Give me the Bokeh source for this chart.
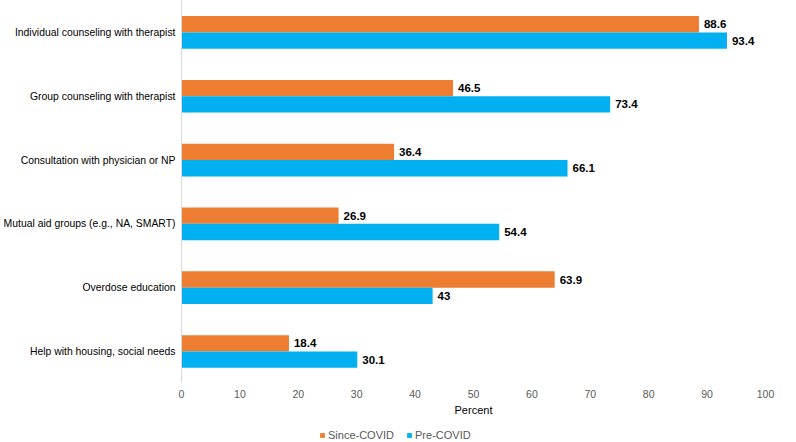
from bokeh.plotting import figure
from bokeh.layouts import column
from bokeh.models import ColumnDataSource, Range1d, Legend, LegendItem, LabelSet, FixedTicker
from bokeh.core.properties import value
from bokeh.transform import dodge
from bokeh.embed import file_html
from bokeh.resources import INLINE

categories = [
    "Individual counseling with therapist",
    "Group counseling with therapist",
    "Consultation with physician or NP",
    "Mutual aid groups (e.g., NA, SMART)",
    "Overdose education",
    "Help with housing, social needs",
]
since_covid = [88.6, 46.5, 36.4, 26.9, 63.9, 18.4]
pre_covid = [93.4, 73.4, 66.1, 54.4, 43, 30.1]
x_ticks = [0, 10, 20, 30, 40, 50, 60, 70, 80, 90, 100]
series_names = ["Since-COVID", "Pre-COVID"]

ORANGE = "#ED7D31"
BLUE = "#00B0F0"
FONT = "Liberation Sans"

pos = list(range(len(categories)))
src = ColumnDataSource(dict(
    y=pos,
    since=since_covid,
    pre=pre_covid,
    since_lbl=[f"{v:g}" for v in since_covid],
    pre_lbl=[f"{v:g}" for v in pre_covid],
))

p = figure(width=780, height=420, output_backend="svg", toolbar_location=None,
           x_range=Range1d(0, 100), y_range=Range1d(5.486, -0.5),
           min_border_left=179, min_border_right=15, min_border_top=0,
           min_border_bottom=38, outline_line_color=None)

p.hbar(y=dodge("y", -0.128, range=p.y_range), right="since", left=0, height=0.256,
       source=src, fill_color=ORANGE, line_color=None)
p.hbar(y=dodge("y", 0.128, range=p.y_range), right="pre", left=0, height=0.256,
       source=src, fill_color=BLUE, line_color=None)

lbl_kw = dict(x_offset=5, text_font_size="11.5px", text_font_style="bold",
              text_color="#000000", text_baseline="middle", text_font=value(FONT))
p.add_layout(LabelSet(x="since", y=dodge("y", -0.128, range=p.y_range), text="since_lbl",
                      source=src, **lbl_kw))
p.add_layout(LabelSet(x="pre", y=dodge("y", 0.128, range=p.y_range), text="pre_lbl",
                      source=src, **lbl_kw))

p.xgrid.grid_line_color = None
p.ygrid.grid_line_color = None

xa = p.xaxis[0]
xa.ticker = FixedTicker(ticks=x_ticks)
xa.axis_line_color = None
xa.major_tick_line_color = None
xa.minor_tick_line_color = None
xa.major_tick_out = 0
xa.major_tick_in = 0
xa.minor_tick_out = 0
xa.major_label_text_font = FONT
xa.major_label_text_font_size = "10.5px"
xa.major_label_text_color = "#595959"
xa.major_label_standoff = 7
xa.axis_label = "Percent"
xa.axis_label_text_font = FONT
xa.axis_label_text_font_size = "11px"
xa.axis_label_text_font_style = "normal"
xa.axis_label_text_color = "#000000"
xa.axis_label_standoff = 3

ya = p.yaxis[0]
ya.ticker = FixedTicker(ticks=pos)
ya.major_label_overrides = {i: c for i, c in zip(pos, categories)}
ya.axis_line_color = "#D9D9D9"
ya.major_tick_line_color = None
ya.minor_tick_line_color = None
ya.major_tick_out = 0
ya.major_tick_in = 0
ya.minor_tick_out = 0
ya.major_label_text_font = FONT
ya.major_label_text_font_size = "10.4px"
ya.major_label_text_color = "#000000"
ya.major_label_standoff = 6

# legend strip below the chart (hidden renderers only supply the swatch styles)
lg = figure(width=780, height=22, output_backend="svg", toolbar_location=None,
            x_range=Range1d(0, 100), y_range=Range1d(-0.5, 5.5),
            x_axis_location=None, y_axis_location=None,
            min_border=0, outline_line_color=None)
lg.grid.visible = False
g1 = lg.hbar(y="y", right="since", left=0, height=0.25, source=src,
             fill_color=ORANGE, line_color=None, visible=False)
g2 = lg.hbar(y="y", right="pre", left=0, height=0.25, source=src,
             fill_color=BLUE, line_color=None, visible=False)
legend = Legend(items=[LegendItem(label=series_names[0], renderers=[g1], index=0),
                       LegendItem(label=series_names[1], renderers=[g2], index=0)],
                orientation="horizontal", location=(138, 1),
                glyph_width=6, glyph_height=6, spacing=12, padding=0, margin=0,
                label_text_font=FONT, label_text_font_size="11px",
                label_text_color="#595959", label_standoff=3, label_height=12,
                inactive_fill_alpha=0,
                border_line_color=None, background_fill_alpha=0)
lg.add_layout(legend)

open("out.html", "w").write(file_html(column(p, lg), INLINE))
